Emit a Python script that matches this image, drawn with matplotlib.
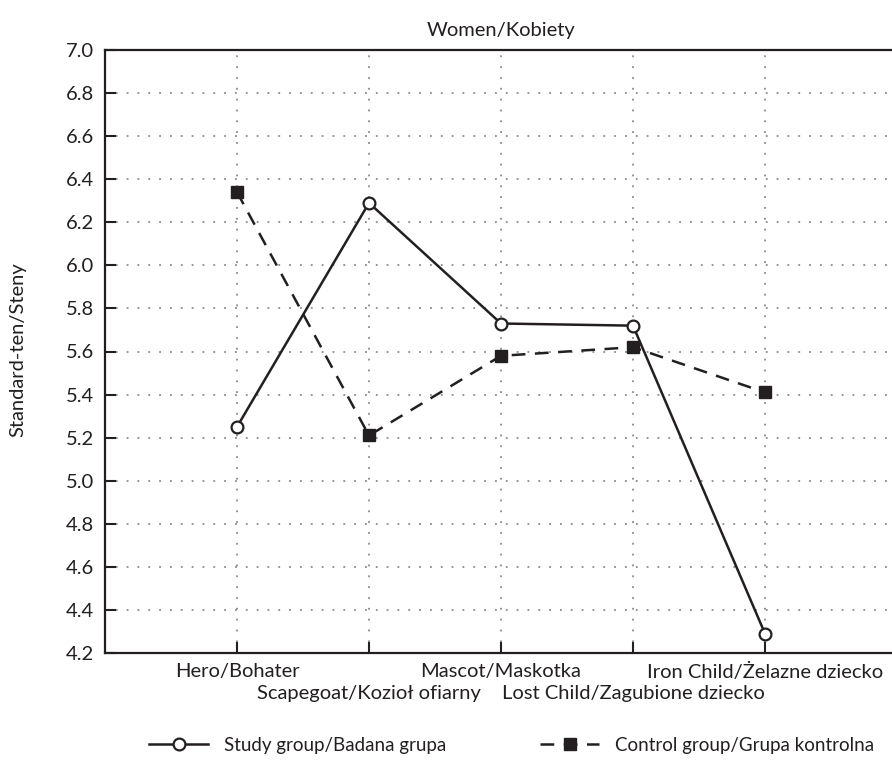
import matplotlib
matplotlib.use("Agg")
import matplotlib.pyplot as plt

plt.rcParams['font.family'] = ['Lato', 'DejaVu Sans']

# Data
categories = ["Hero/Bohater", "Scapegoat/Kozioł ofiarny", "Mascot/Maskotka",
              "Lost Child/Zagubione dziecko", "Iron Child/Żelazne dziecko"]
study = [5.25, 6.29, 5.73, 5.72, 4.29]
control = [6.34, 5.21, 5.58, 5.62, 5.41]
yticks = [4.2, 4.4, 4.6, 4.8, 5.0, 5.2, 5.4, 5.6, 5.8, 6.0, 6.2, 6.4, 6.6, 6.8, 7.0]

fs = 14.5
col = "#231f20"

fig = plt.figure(figsize=(8.92, 7.63), dpi=100)
ax = fig.add_axes([105 / 892, 1 - 653 / 763, 792 / 892, 603 / 763])

x = list(range(1, len(categories) + 1))
ax.plot(x, study, color=col, lw=1.8, marker="o", markersize=8.5,
        markerfacecolor="white", markeredgecolor=col, markeredgewidth=1.6,
        label="Study group/Badana grupa", zorder=3)
ax.plot(x, control, color=col, lw=1.8, linestyle=(0, (5.5, 3.8)), marker="s",
        markersize=9, markerfacecolor=col, markeredgecolor=col,
        label="Control group/Grupa kontrolna", zorder=3)

ax.set_xlim(0, 6)
ax.set_ylim(4.2, 7.0)
ax.set_yticks(yticks)
ax.set_yticklabels([f"{v:.1f}" for v in yticks])
# alternate category labels on two rows
ax.set_xticks(x[0::2], categories[0::2])
ax.set_xticks(x[1::2], categories[1::2], minor=True)

ax.grid(True, which="both", axis="x", color="#8a8a8a", linestyle=(0, (1, 5)), lw=1.3)
ax.grid(True, axis="y", color="#8a8a8a", linestyle=(0, (1, 5)), lw=1.3)
ax.tick_params(which="both", direction="in", length=8, width=1.5, color=col,
               labelsize=fs, labelcolor=col)
ax.tick_params(axis="x", which="major", pad=7)
ax.tick_params(axis="x", which="minor", pad=23)
ax.tick_params(axis="y", pad=8)
for s in ["left", "bottom", "top", "right"]:
    ax.spines[s].set_linewidth(1.6)
    ax.spines[s].set_color(col)

ax.set_title("Women/Kobiety", fontsize=fs, color=col, pad=10)
fig.text(18 / 892, 1 - 350 / 763, "Standard-ten/Steny", rotation=90,
         ha="center", va="center", fontsize=fs, color=col)

fig.legend(loc="center", bbox_to_anchor=(512 / 892, 1 - 745 / 763), ncol=2,
           frameon=False, fontsize=13.5, columnspacing=5.0, handlelength=3.1,
           handletextpad=0.9, labelcolor=col)

fig.savefig("out.png", dpi=100)
